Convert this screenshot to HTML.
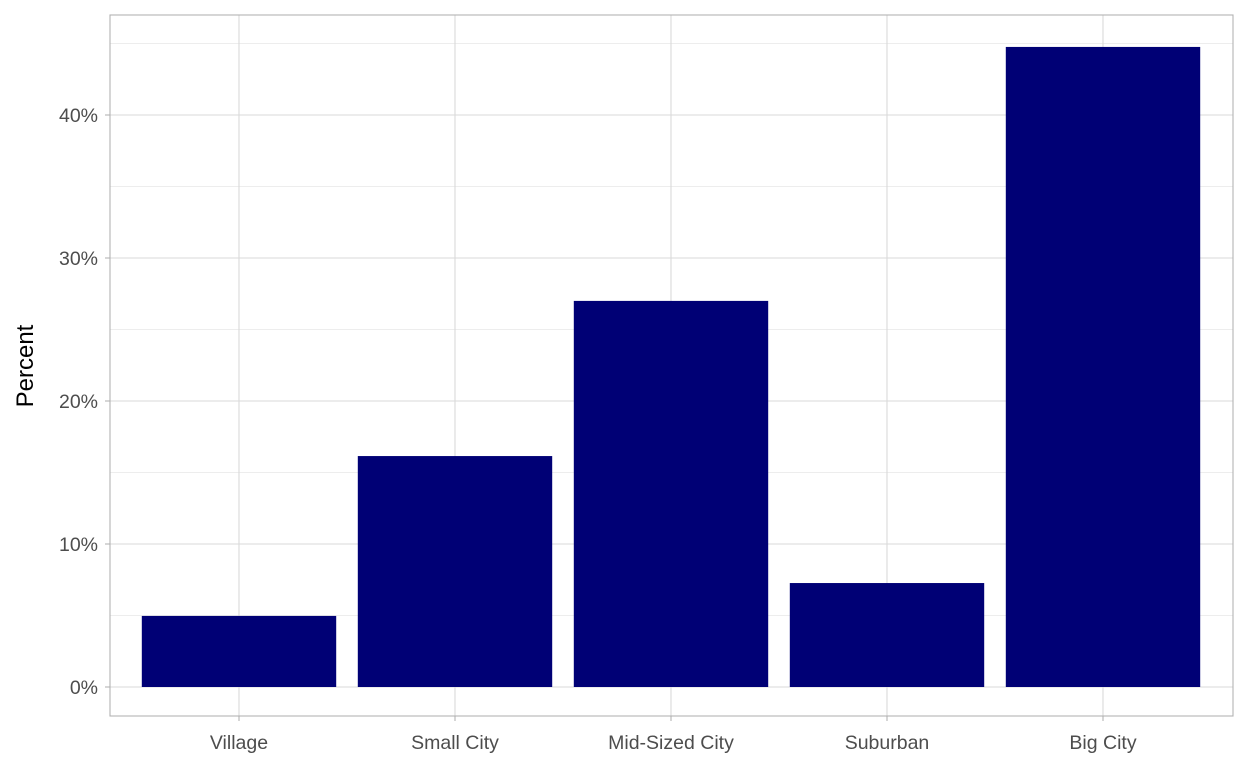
<!DOCTYPE html>
<html><head><meta charset="utf-8"><style>
html,body{margin:0;padding:0;background:#fff;}
svg{display:block;font-family:"Liberation Sans",Arial,sans-serif;}
</style></head><body>
<svg id="chart" width="1248" height="768" xmlns="http://www.w3.org/2000/svg"></svg>
<script>
const categories = ["Village","Small City","Mid-Sized City","Suburban","Big City"];
const percentValues = [4.97, 16.15, 27.0, 7.27, 44.76];
const yTickValues = [0, 10, 20, 30, 40];
const yTickLabels = ["0%","10%","20%","30%","40%"];
const yMinorValues = [5, 15, 25, 35, 45];

const NS = "http://www.w3.org/2000/svg";
const svg = document.getElementById("chart");
const panel = {x0:110, x1:1233, y0:15, y1:716};
function yScale(v){ return 687 - v*14.3; }
const band = 216;
function xCenter(i){ return 239 + i*band; }
const barW = 194.4;

function mk(tag, attrs, parent){
  const e = document.createElementNS(NS, tag);
  for (const k in attrs) e.setAttribute(k, attrs[k]);
  (parent||svg).appendChild(e);
  return e;
}

const grid = mk("g", {});


yMinorValues.forEach(v => {
  const l = mk("line", {x1:panel.x0, x2:panel.x1, y1:yScale(v), y2:yScale(v), stroke:"#ededed", "stroke-width":1}, grid);
  
  
});
yTickValues.forEach(v => {
  const l = mk("line", {x1:panel.x0, x2:panel.x1, y1:yScale(v), y2:yScale(v), stroke:"#dadada", "stroke-width":1.1}, grid);
  
  
});
categories.forEach((c,i) => {
  const l = mk("line", {x1:xCenter(i), x2:xCenter(i), y1:panel.y0, y2:panel.y1, stroke:"#dadada", "stroke-width":1.1}, grid);
  
  
});

percentValues.forEach((v,i) => {
  const r = mk("rect", {x:xCenter(i)-barW/2, y:yScale(v), width:barW, height:yScale(0)-yScale(v), fill:"#000075"});
  
  
});

const border = mk("rect", {x:panel.x0, y:panel.y0, width:panel.x1-panel.x0, height:panel.y1-panel.y0, fill:"none", stroke:"#b3b3b3", "stroke-width":1.1});



yTickValues.forEach((v,i) => {
  const t = mk("line", {x1:panel.x0-5, x2:panel.x0, y1:yScale(v), y2:yScale(v), stroke:"#b3b3b3", "stroke-width":1.1});
  
  
  const tx = mk("text", {x:panel.x0-12, y:yScale(v)+7, "text-anchor":"end", "font-size":19.5, fill:"#4d4d4d"});
  tx.textContent = yTickLabels[i];
  
  
});
categories.forEach((c,i) => {
  const t = mk("line", {x1:xCenter(i), x2:xCenter(i), y1:panel.y1, y2:panel.y1+5, stroke:"#b3b3b3", "stroke-width":1.1});
  
  
  const tx = mk("text", {x:xCenter(i), y:749, "text-anchor":"middle", "font-size":19.5, fill:"#4d4d4d"});
  tx.textContent = c;
  
  
});

const yt = mk("text", {x:0, y:0, transform:"translate(33,366) rotate(-90)", "text-anchor":"middle", "font-size":24, fill:"#000"});
yt.textContent = "Percent";


</script>
</body></html>
